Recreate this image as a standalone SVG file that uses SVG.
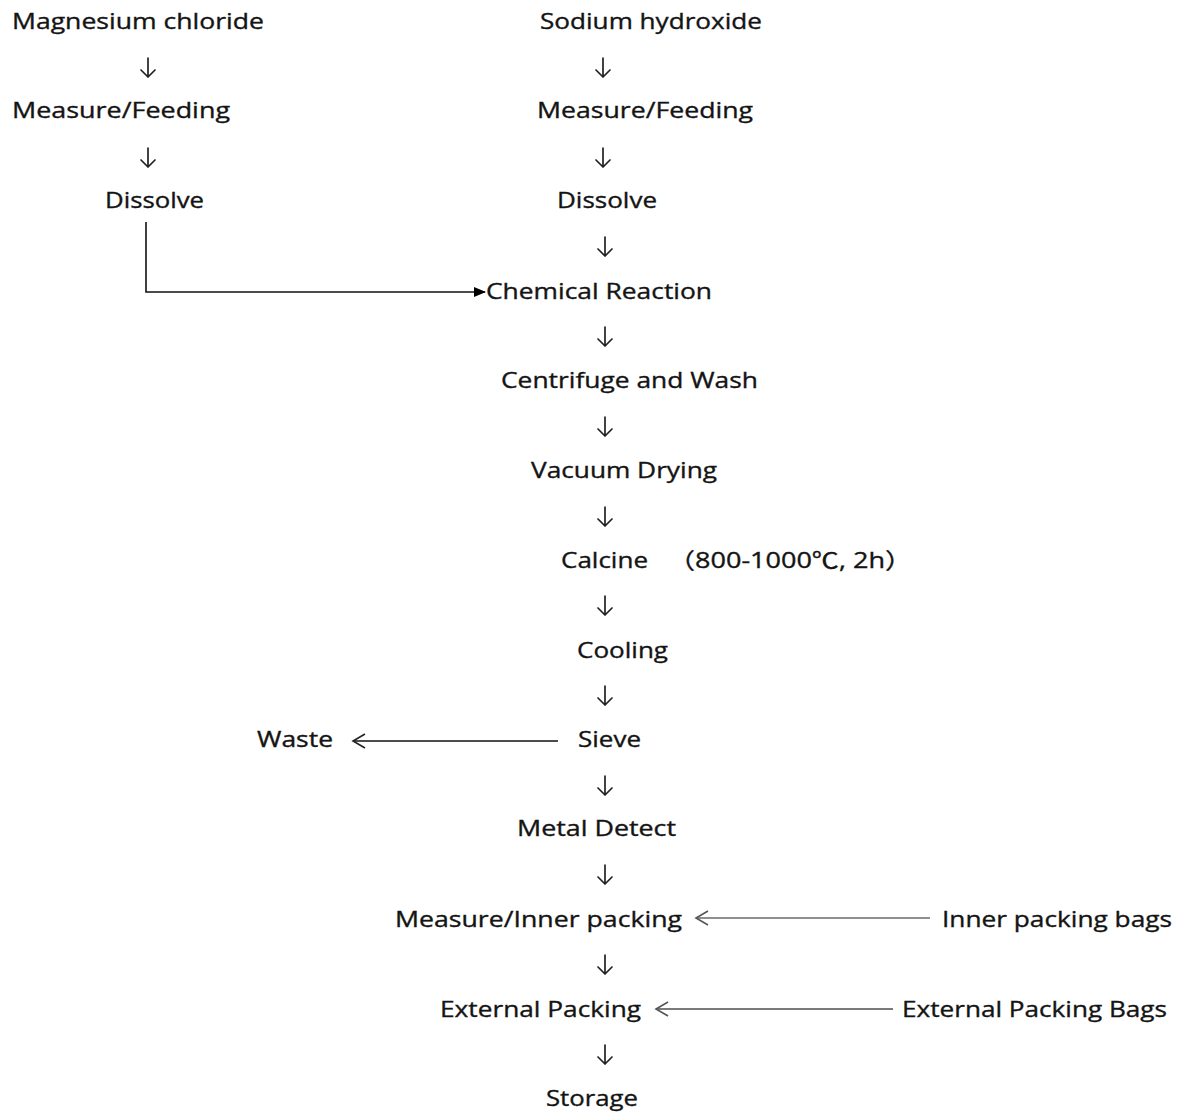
<svg xmlns="http://www.w3.org/2000/svg" width="1185" height="1113" viewBox="0 0 1185 1113">
<defs>
<style>
text{font-family:"Open Sans","Noto Sans","Noto Sans CJK SC",sans-serif;font-size:22px;fill:#141414;stroke:#141414;stroke-width:0.35}
.cjk{font-family:"Noto Sans CJK SC",sans-serif}
.dn{fill:none;stroke:#222;stroke-width:1.7;stroke-linecap:round;stroke-linejoin:round}
.ln{fill:none;stroke:#111;stroke-width:1.6}
.g{fill:none;stroke:#6a6a6a;stroke-width:1.6}
.g2{fill:none;stroke:#7a7a7a;stroke-width:2.2}
</style>
<marker id="fill" markerWidth="12" markerHeight="10" refX="11" refY="5" orient="auto" markerUnits="userSpaceOnUse"><path d="M0,0 L12,5 L0,10 Z" fill="#000"/></marker>
<marker id="open" markerWidth="16" markerHeight="20" refX="13" refY="10" orient="auto" markerUnits="userSpaceOnUse"><path d="M1,3 L13,10 L1,17" fill="none" stroke="#222" stroke-width="1.6"/></marker>
<marker id="openg" markerWidth="16" markerHeight="20" refX="13" refY="10" orient="auto" markerUnits="userSpaceOnUse"><path d="M1,3 L13,10 L1,17" fill="none" stroke="#555" stroke-width="1.6"/></marker>
<path id="d" d="M0,-9 V10 M-7,3 L0,10 L7,3"/>
</defs>
<rect width="1185" height="1113" fill="#fff"/>
<g id="connectors">
<use href="#d" class="dn" x="148" y="67"/>
<use href="#d" class="dn" x="148" y="157"/>
<use href="#d" class="dn" x="603" y="67"/>
<use href="#d" class="dn" x="603" y="157"/>
<use href="#d" class="dn" x="605" y="246"/>
<use href="#d" class="dn" x="605" y="336"/>
<use href="#d" class="dn" x="605" y="426"/>
<use href="#d" class="dn" x="605" y="516"/>
<use href="#d" class="dn" x="605" y="605"/>
<use href="#d" class="dn" x="605" y="695"/>
<use href="#d" class="dn" x="605" y="785"/>
<use href="#d" class="dn" x="605" y="874"/>
<use href="#d" class="dn" x="605" y="964"/>
<use href="#d" class="dn" x="605" y="1054"/>
<path class="ln" d="M146,222 V292 H485" marker-end="url(#fill)"/>
<path class="ln" d="M558,741 H353" marker-end="url(#open)"/>
<path class="g" d="M930,918 H696" marker-end="url(#openg)"/>
<path class="g2" d="M893,1009 H656" marker-end="url(#openg)"/>
</g>
<g id="n-mgcl"><text x="12" y="29" textLength="252" lengthAdjust="spacingAndGlyphs">Magnesium chloride</text></g>
<g id="n-naoh"><text x="540" y="29" textLength="222" lengthAdjust="spacingAndGlyphs">Sodium hydroxide</text></g>
<g id="n-measure1"><text x="12" y="118" textLength="218" lengthAdjust="spacingAndGlyphs">Measure/Feeding</text></g>
<g id="n-measure2"><text x="537" y="118" textLength="216" lengthAdjust="spacingAndGlyphs">Measure/Feeding</text></g>
<g id="n-dissolve1"><text x="105" y="208" textLength="99" lengthAdjust="spacingAndGlyphs">Dissolve</text></g>
<g id="n-dissolve2"><text x="557" y="208" textLength="100" lengthAdjust="spacingAndGlyphs">Dissolve</text></g>
<g id="n-reaction"><text x="486" y="299" textLength="226" lengthAdjust="spacingAndGlyphs">Chemical Reaction</text></g>
<g id="n-centrifuge"><text x="501" y="388" textLength="257" lengthAdjust="spacingAndGlyphs">Centrifuge and Wash</text></g>
<g id="n-drying"><text x="531" y="478" textLength="186" lengthAdjust="spacingAndGlyphs">Vacuum Drying</text></g>
<g id="n-calcine"><text x="561" y="568" textLength="87" lengthAdjust="spacingAndGlyphs">Calcine</text><text x="668" y="568" textLength="244" lengthAdjust="spacingAndGlyphs"><tspan class="cjk">（</tspan>800-1000<tspan class="cjk">℃</tspan>, 2h<tspan class="cjk">）</tspan></text></g>
<g id="n-cooling"><text x="577" y="658" textLength="91" lengthAdjust="spacingAndGlyphs">Cooling</text></g>
<g id="n-sieve"><text x="578" y="747" textLength="63" lengthAdjust="spacingAndGlyphs">Sieve</text></g>
<g id="n-waste"><text x="257" y="747" textLength="76" lengthAdjust="spacingAndGlyphs">Waste</text></g>
<g id="n-metal"><text x="517" y="836" textLength="159" lengthAdjust="spacingAndGlyphs">Metal Detect</text></g>
<g id="n-inner"><text x="395" y="927" textLength="287" lengthAdjust="spacingAndGlyphs">Measure/Inner packing</text></g>
<g id="n-innerbags"><text x="942" y="927" textLength="230" lengthAdjust="spacingAndGlyphs">Inner packing bags</text></g>
<g id="n-external"><text x="440" y="1017" textLength="201" lengthAdjust="spacingAndGlyphs">External Packing</text></g>
<g id="n-extbags"><text x="902" y="1017" textLength="265" lengthAdjust="spacingAndGlyphs">External Packing Bags</text></g>
<g id="n-storage"><text x="546" y="1106" textLength="92" lengthAdjust="spacingAndGlyphs">Storage</text></g>
</svg>
